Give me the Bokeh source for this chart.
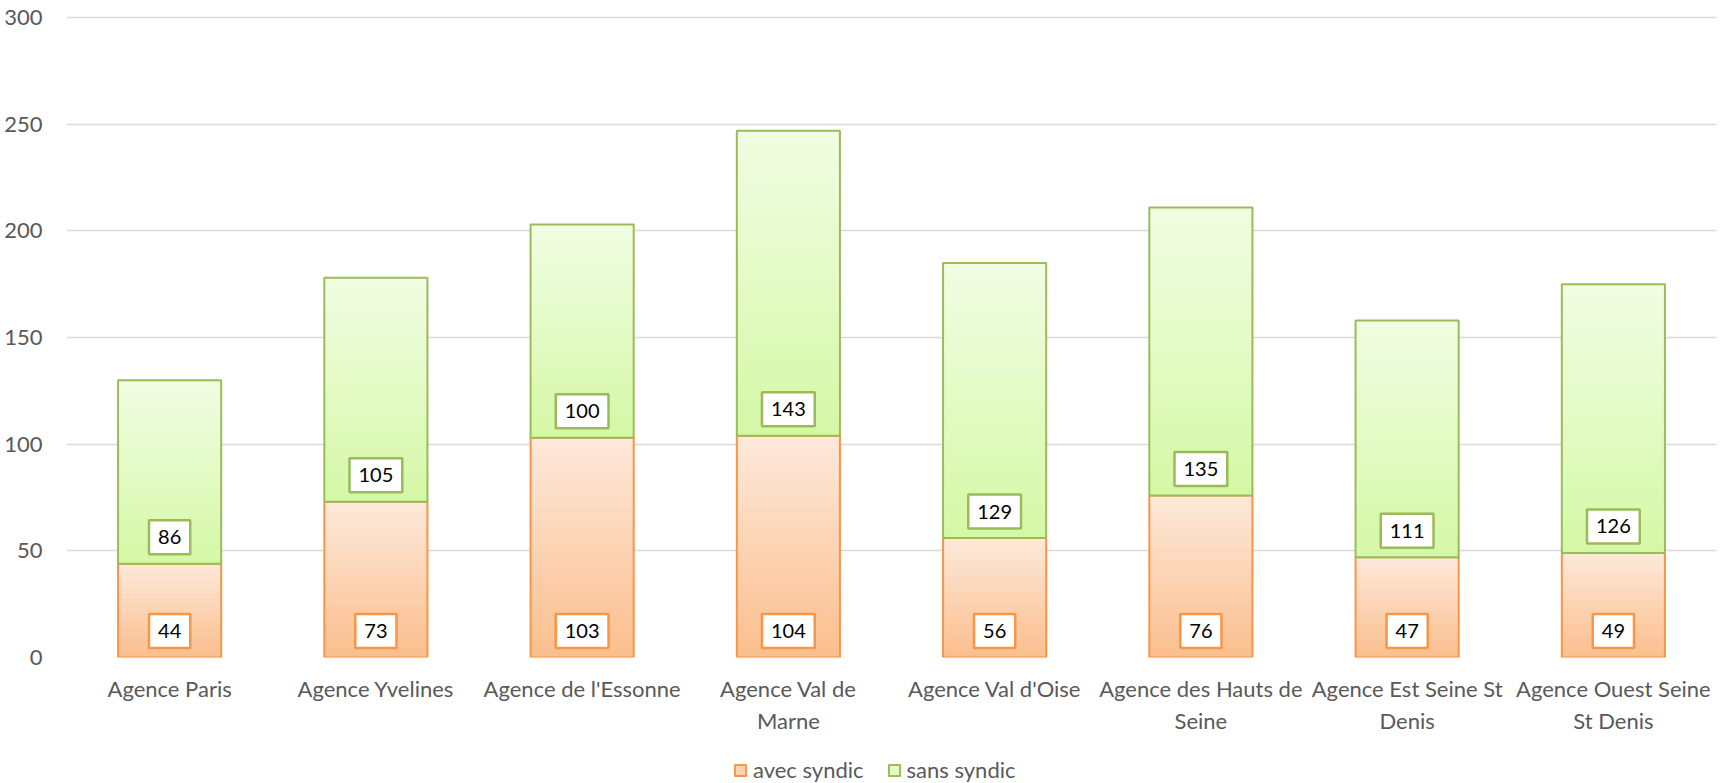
import numpy as np
from bokeh.plotting import figure
from bokeh.layouts import column
from bokeh.models import (ColumnDataSource, FactorRange, Range1d, Label,
                          Legend, LegendItem)
from bokeh.embed import file_html
from bokeh.resources import INLINE

categories = ["Agence Paris", "Agence Yvelines", "Agence de l'Essonne",
              "Agence Val de\nMarne", "Agence Val d'Oise",
              "Agence des Hauts de\nSeine", "Agence Est Seine St\nDenis",
              "Agence Ouest Seine\nSt Denis"]
avec_syndic = [44, 73, 103, 104, 56, 76, 47, 49]
sans_syndic = [86, 105, 100, 143, 129, 135, 111, 126]
series_names = ["avec syndic", "sans syndic"]
y_ticks = [0, 50, 100, 150, 200, 250, 300]

FONT = "Lato"
AXIS_COLOR = "#595959"
styles = {
    "avec syndic": dict(top="#FDE9DB", bottom="#FBBE8D", mid="#FCD3B4",
                        line="#F79646"),
    "sans syndic": dict(top="#F1FDE3", bottom="#D5F8A6", mid="#E4FBC6",
                        line="#9BBB59"),
}

W = 1717
H_MAIN = 736
H_LEG = 47

p = figure(x_range=FactorRange(*categories), y_range=Range1d(0, 301),
           width=W, height=H_MAIN, output_backend="svg",
           toolbar_location=None, min_border_left=66, min_border_right=1,
           min_border_top=15, min_border_bottom=H_MAIN - 657)
p.outline_line_color = None
p.background_fill_color = "white"
p.border_fill_color = "white"


def hex2rgb(h):
    h = h.lstrip("#")
    return np.array([int(h[i:i + 2], 16) for i in (0, 2, 4)], dtype=float)


def rgb2hex(c):
    return "#%02x%02x%02x" % tuple(int(round(v)) for v in c)


N = 40
bases = [0] * len(categories)
for name, vals in zip(series_names, [avec_syndic, sans_syndic]):
    st = styles[name]
    c_top, c_bot = hex2rgb(st["top"]), hex2rgb(st["bottom"])
    xs, bots, tops, cols = [], [], [], []
    for k in range(N):
        t = (k + 0.5) / N
        col = rgb2hex(c_bot + (c_top - c_bot) * t)
        for cat, b, v in zip(categories, bases, vals):
            xs.append(cat)
            bots.append(b + v * k / N)
            tops.append(b + v)
            cols.append(col)
    p.vbar(x=xs, bottom=bots, top=tops, width=0.5, fill_color=cols,
           line_color=None)
    tops_seg = [b + v for b, v in zip(bases, vals)]
    src = ColumnDataSource(dict(x=categories, bottom=bases, top=tops_seg))
    p.vbar(x="x", bottom="bottom", top="top", width=0.5, source=src,
           fill_alpha=0, line_color=st["line"], line_width=2)
    for i, (b, v) in enumerate(zip(bases, vals)):
        lab = Label(x=i + 0.5, y=b, text=str(v),
                    text_align="center", text_baseline="middle",
                    y_offset=26.5, text_font=FONT, text_font_size="20px",
                    text_color="#000000", background_fill_color="white",
                    border_line_color=st["line"], border_line_width=2.5,
                    padding=(9, 10))
        p.add_layout(lab)
    bases = tops_seg

p.xgrid.grid_line_color = None
p.ygrid.grid_line_color = "#D9D9D9"
p.ygrid.grid_line_width = 1.5
p.yaxis.ticker = y_ticks
p.yaxis.axis_line_color = None
p.yaxis.major_tick_line_color = None
p.yaxis.minor_tick_line_color = None
p.yaxis.major_label_standoff = 18
p.yaxis.major_label_text_font = FONT
p.yaxis.major_label_text_font_size = "22px"
p.yaxis.major_label_text_color = AXIS_COLOR

p.xaxis.axis_line_color = None
p.xaxis.major_tick_line_color = None
p.xaxis.minor_tick_line_color = None
p.xaxis.major_label_standoff = 11
p.xaxis.major_label_text_font = FONT
p.xaxis.major_label_text_font_size = "22px"
p.xaxis.major_label_text_color = AXIS_COLOR

# legend strip
pl = figure(width=W, height=H_LEG, output_backend="svg",
            toolbar_location=None, min_border=0,
            x_range=Range1d(0, 1), y_range=Range1d(0, 1))
pl.outline_line_color = None
pl.axis.visible = False
pl.grid.visible = False
leg_items = []
for name, vals in zip(series_names, [avec_syndic, sans_syndic]):
    st = styles[name]
    r = pl.vbar(x=[0.5], top=[1], width=0.1, fill_color=st["mid"],
                line_color=st["line"], line_width=2, visible=False)
    leg_items.append(LegendItem(label=name, renderers=[r]))

legend = Legend(items=leg_items, orientation="horizontal",
                location=(667, 0), glyph_width=14, glyph_height=14,
                label_standoff=6, spacing=23, padding=0, margin=0,
                border_line_color=None, background_fill_alpha=0,
                label_text_font=FONT, label_text_font_size="22px",
                label_text_color=AXIS_COLOR)
pl.add_layout(legend, "center")

layout = column(p, pl, spacing=0)
open("out.html", "w").write(file_html(layout, INLINE))
